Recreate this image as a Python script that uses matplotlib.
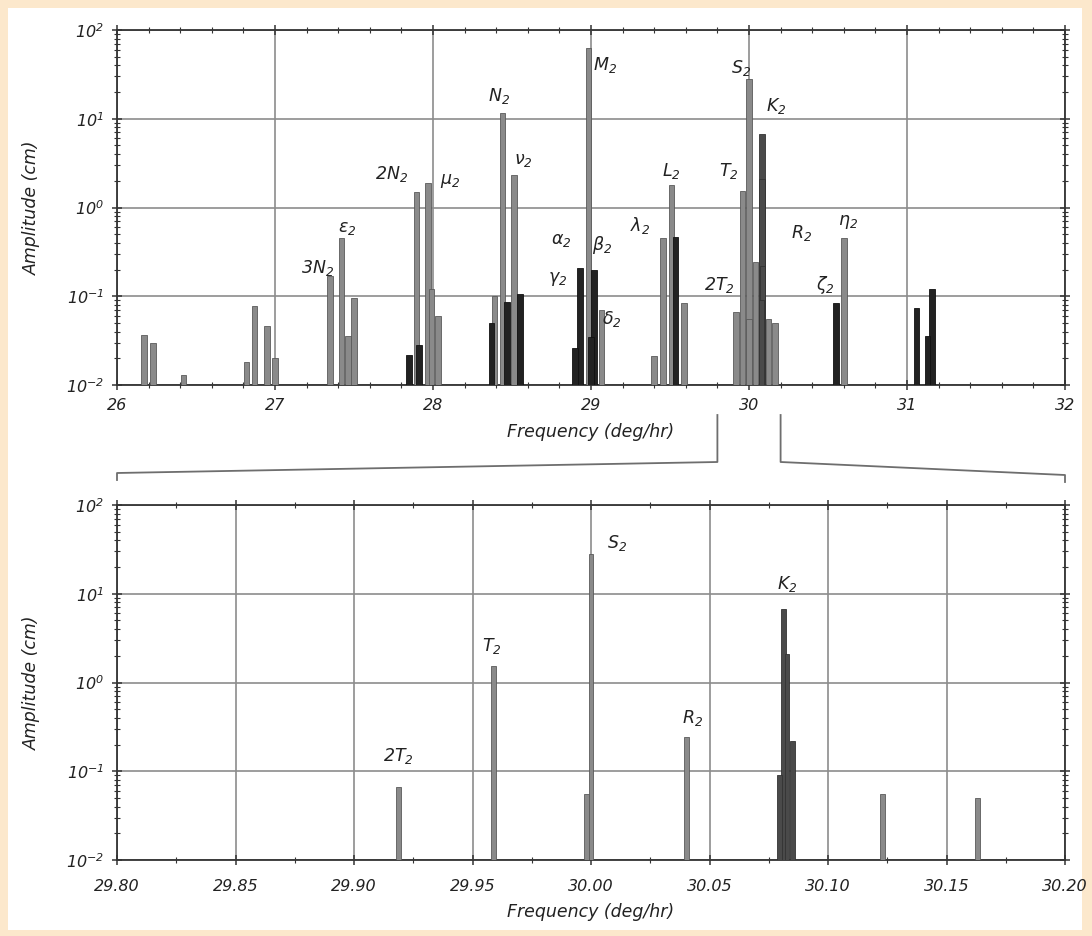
import numpy as np
import matplotlib
matplotlib.use("Agg")
import matplotlib.pyplot as plt
from matplotlib.lines import Line2D
from matplotlib.patches import Rectangle
from matplotlib.ticker import LogLocator, MultipleLocator, FuncFormatter, NullFormatter

plt.rcParams['font.family'] = ['DejaVu Sans']
plt.rcParams['font.style'] = 'italic'
plt.rcParams['mathtext.fontset'] = 'custom'
plt.rcParams['mathtext.rm'] = 'DejaVu Sans:italic'
plt.rcParams['mathtext.it'] = 'DejaVu Sans:italic'

# spectral lines (deg/hr, cm); kind 'g' = grey, 'd' = dark grey, 'k' = black
freq = [26.17, 26.23, 26.42,
        26.82, 26.87, 26.95, 27.00,
        27.35, 27.42, 27.46, 27.50,
        27.85, 27.895, 27.91, 27.968, 27.99, 28.03,
        28.37, 28.39, 28.440, 28.47, 28.513, 28.55,
        28.90, 28.93, 28.984, 29.00, 29.02, 29.066,
        29.40, 29.456, 29.51, 29.535, 29.59,
        29.9186, 29.9589, 29.998, 30.000, 30.0405,
        30.0797, 30.0814, 30.0827, 30.0852, 30.123, 30.163,
        30.55, 30.60,
        31.06, 31.13, 31.16]
amp = [0.037, 0.030, 0.013,
       0.018, 0.078, 0.046, 0.020,
       0.17, 0.45, 0.036, 0.095,
       0.022, 1.5, 0.028, 1.9, 0.12, 0.060,
       0.050, 0.10, 11.5, 0.087, 2.3, 0.105,
       0.026, 0.21, 62.0, 0.035, 0.20, 0.070,
       0.021, 0.45, 1.8, 0.47, 0.083,
       0.066, 1.55, 0.056, 28.0, 0.245,
       0.090, 6.7, 2.1, 0.22, 0.056, 0.050,
       0.085, 0.45,
       0.073, 0.036, 0.12]
kind = ['g', 'g', 'g',
        'g', 'g', 'g', 'g',
        'g', 'g', 'g', 'g',
        'k', 'g', 'k', 'g', 'g', 'g',
        'k', 'g', 'g', 'k', 'g', 'k',
        'k', 'k', 'g', 'k', 'k', 'g',
        'g', 'g', 'g', 'k', 'g',
        'g', 'g', 'g', 'g', 'g',
        'd', 'd', 'd', 'd', 'g', 'g',
        'k', 'g',
        'k', 'k', 'k']

# constituent labels: text, x, y
top_labels = [("3N$_2$", 27.27, 0.21), ("ε$_2$", 27.46, 0.58), ("2N$_2$", 27.74, 2.4),
              ("μ$_2$", 28.11, 2.0), ("N$_2$", 28.42, 18.0), ("ν$_2$", 28.57, 3.4),
              ("α$_2$", 28.81, 0.43), ("γ$_2$", 28.79, 0.155), ("M$_2$", 29.09, 40.0),
              ("β$_2$", 29.07, 0.38), ("δ$_2$", 29.13, 0.055), ("λ$_2$", 29.31, 0.62),
              ("L$_2$", 29.51, 2.6), ("T$_2$", 29.87, 2.6), ("S$_2$", 29.95, 37.0),
              ("K$_2$", 30.17, 14.0), ("2T$_2$", 29.81, 0.135), ("R$_2$", 30.33, 0.52),
              ("ζ$_2$", 30.48, 0.135), ("η$_2$", 30.63, 0.68)]
bot_labels = [("2T$_2$", 29.9186, 0.15), ("T$_2$", 29.958, 2.6), ("S$_2$", 30.011, 37.0),
              ("R$_2$", 30.043, 0.40), ("K$_2$", 30.0827, 13.0)]

colors = {'g': '#8a8a8a', 'd': '#4a4a4a', 'k': '#222222'}
edges = {'g': '#5a5a5a', 'd': '#333333', 'k': '#111111'}
floor = 0.01

fig = plt.figure(figsize=(10.92, 9.36), dpi=100, facecolor='#fce8cc')
fig.patches.append(Rectangle((8 / 1092, 6 / 936), 1074 / 1092, 922 / 936,
                             transform=fig.transFigure, facecolor='white',
                             edgecolor='none', zorder=-10))

ax1 = fig.add_axes([117 / 1092, 1 - 385 / 936, 948 / 1092, 355 / 936])
ax2 = fig.add_axes([117 / 1092, 1 - 860 / 936, 948 / 1092, 355 / 936])


def draw(ax, xmin, xmax, width, xpad):
    order = np.argsort(amp)[::-1]
    for i in order:
        if xmin <= freq[i] <= xmax:
            ax.bar(freq[i], amp[i] - floor, bottom=floor, width=width,
                   color=colors[kind[i]], edgecolor=edges[kind[i]], linewidth=0.6, zorder=3)
    ax.set_yscale('log')
    ax.set_ylim(0.01, 100)
    ax.set_xlim(xmin, xmax)
    ax.yaxis.set_major_locator(LogLocator(base=10, numticks=10))
    ax.yaxis.set_minor_locator(LogLocator(base=10, subs=np.arange(2, 10), numticks=10))
    ax.yaxis.set_minor_formatter(NullFormatter())
    ax.yaxis.set_major_formatter(FuncFormatter(lambda v, p: "10$^{%d}$" % round(np.log10(v))))
    ax.grid(True, which='major', color='#8c8c8c', linewidth=1.2, zorder=1)
    ax.set_axisbelow(True)
    ax.tick_params(which='both', direction='inout', top=True, right=True, colors='#333333',
                   labelcolor='#222222', labelsize=11.5)
    ax.tick_params(which='major', length=7, width=1.1)
    ax.tick_params(axis='y', which='major', pad=6)
    ax.tick_params(axis='x', which='major', pad=xpad)
    ax.tick_params(which='minor', length=4, width=0.8)
    for s in ax.spines.values():
        s.set_color('#333333')
        s.set_linewidth(1.3)
    ax.set_ylabel("Amplitude (cm)", fontsize=12.5, color='#222222', labelpad=18)
    ax.set_xlabel("Frequency (deg/hr)", fontsize=12.5, color='#222222', labelpad=7)


draw(ax1, 26, 32, 0.036, 6)
ax1.xaxis.set_major_locator(MultipleLocator(1))
ax1.xaxis.set_minor_locator(MultipleLocator(0.2))
ax1.xaxis.set_major_formatter(FuncFormatter(lambda v, p: "%d" % v))
for t, x, y in top_labels:
    ax1.text(x, y, t, ha='center', va='center', fontsize=12.5, color='#222222', zorder=5)

draw(ax2, 29.80, 30.20, 0.0021, 10)
ax2.xaxis.set_major_locator(MultipleLocator(0.05))
ax2.xaxis.set_minor_locator(MultipleLocator(0.025))
ax2.xaxis.set_major_formatter(FuncFormatter(lambda v, p: "%.2f" % v))
for t, x, y in bot_labels:
    ax2.text(x, y, t, ha='center', va='center', fontsize=12.5, color='#222222', zorder=5)

# zoom bracket between the panels
fig.canvas.draw()
inv = fig.transFigure.inverted()
xl = ax1.transData.transform((29.80, 1))[0]
xr = ax1.transData.transform((30.20, 1))[0]
H = 936
left_pts = [(xl, H - 415), (xl, H - 462), (117, H - 473), (117, H - 480)]
right_pts = [(xr, H - 415), (xr, H - 462), (1065, H - 475), (1065, H - 482)]
for pts in (left_pts, right_pts):
    fp = inv.transform(pts)
    fig.add_artist(Line2D(fp[:, 0], fp[:, 1], transform=fig.transFigure,
                          color='#6e6e6e', linewidth=1.3))

fig.savefig("out.png", dpi=100, facecolor=fig.get_facecolor())
